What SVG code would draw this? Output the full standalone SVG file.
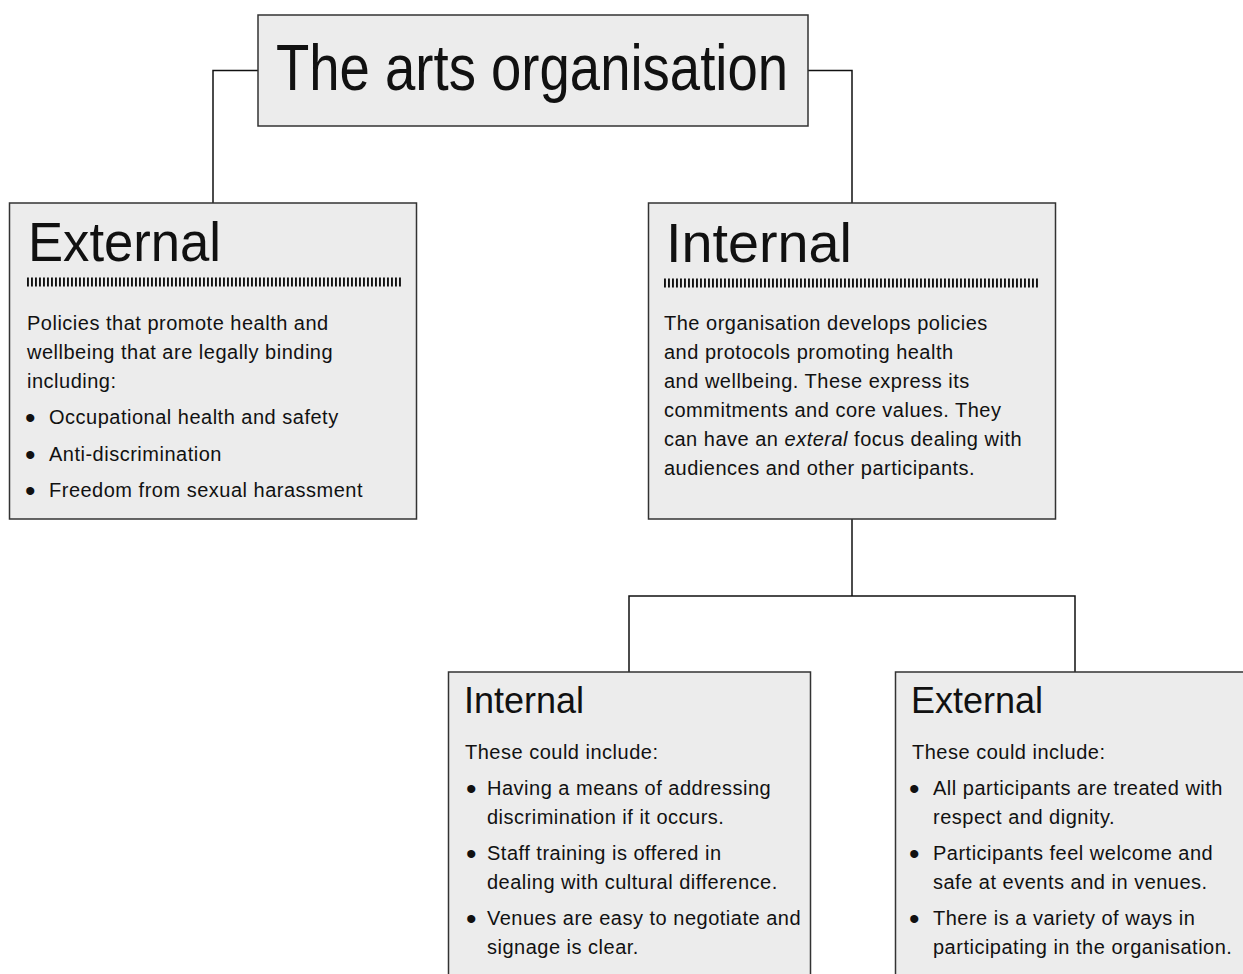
<svg xmlns="http://www.w3.org/2000/svg" width="1243" height="974" viewBox="0 0 1243 974">
<style>
.box{fill:#ececec;stroke:#333;stroke-width:1.5}
.conn{fill:none;stroke:#111;stroke-width:1.5}
text{font-family:"Liberation Sans",Arial,sans-serif;fill:#111}
.big{font-size:55px}
.mid{font-size:36px}
.body{font-size:20px;letter-spacing:0.5px}
.bul{font-size:30px}
.rule{stroke:#111;stroke-width:9;stroke-dasharray:1.9 2.1}
</style>
<rect width="1243" height="974" fill="#fff"/>
<g id="connectors">
<polyline class="conn" points="258,70.5 213,70.5 213,203"/>
<polyline class="conn" points="808,70.5 852,70.5 852,203"/>
<line class="conn" x1="852" y1="519" x2="852" y2="596"/>
<polyline class="conn" points="629,672 629,596 1075,596 1075,672"/>
</g>
<g id="root">
<rect class="box" x="258" y="15" width="550" height="111"/>
<text x="276" y="90" font-size="64" textLength="512" lengthAdjust="spacingAndGlyphs">The arts organisation</text>
</g>
<g id="external-top">
<rect class="box" x="9.5" y="203" width="407" height="316"/>
<text class="big" x="28" y="261" textLength="193" lengthAdjust="spacingAndGlyphs">External</text>
<line class="rule" x1="27" y1="282" x2="402" y2="282"/>
<text class="body" x="27" y="330">Policies that promote health and</text>
<text class="body" x="27" y="359">wellbeing that are legally binding</text>
<text class="body" x="27" y="388">including:</text>
<text class="bul" x="25" y="428">•</text><text class="body" x="49" y="424">Occupational health and safety</text>
<text class="bul" x="25" y="465">•</text><text class="body" x="49" y="461">Anti-discrimination</text>
<text class="bul" x="25" y="501">•</text><text class="body" x="49" y="497">Freedom from sexual harassment</text>
</g>
<g id="internal-top">
<rect class="box" x="648.5" y="203" width="407" height="316"/>
<text class="big" x="666" y="262" textLength="186" lengthAdjust="spacingAndGlyphs">Internal</text>
<line class="rule" x1="664" y1="283" x2="1040" y2="283"/>
<text class="body" x="664" y="330">The organisation develops policies</text>
<text class="body" x="664" y="359">and protocols promoting health</text>
<text class="body" x="664" y="388">and wellbeing. These express its</text>
<text class="body" x="664" y="417">commitments and core values. They</text>
<text class="body" x="664" y="446">can have an <tspan font-style="italic">exteral</tspan> focus dealing with</text>
<text class="body" x="664" y="475">audiences and other participants.</text>
</g>
<g id="internal-sub">
<rect class="box" x="448.5" y="672" width="362" height="330"/>
<text class="mid" x="464" y="713">Internal</text>
<text class="body" x="465" y="759">These could include:</text>
<text class="bul" x="466" y="799">•</text><text class="body" x="487" y="795">Having a means of addressing</text>
<text class="body" x="487" y="824">discrimination if it occurs.</text>
<text class="bul" x="466" y="864">•</text><text class="body" x="487" y="860">Staff training is offered in</text>
<text class="body" x="487" y="889">dealing with cultural difference.</text>
<text class="bul" x="466" y="929">•</text><text class="body" x="487" y="925">Venues are easy to negotiate and</text>
<text class="body" x="487" y="954">signage is clear.</text>
</g>
<g id="external-sub">
<rect class="box" x="895.5" y="672" width="362" height="330"/>
<text class="mid" x="911" y="713">External</text>
<text class="body" x="912" y="759">These could include:</text>
<text class="bul" x="909" y="799">•</text><text class="body" x="933" y="795">All participants are treated with</text>
<text class="body" x="933" y="824">respect and dignity.</text>
<text class="bul" x="909" y="864">•</text><text class="body" x="933" y="860">Participants feel welcome and</text>
<text class="body" x="933" y="889">safe at events and in venues.</text>
<text class="bul" x="909" y="929">•</text><text class="body" x="933" y="925">There is a variety of ways in</text>
<text class="body" x="933" y="954">participating in the organisation.</text>
</g>
</svg>
